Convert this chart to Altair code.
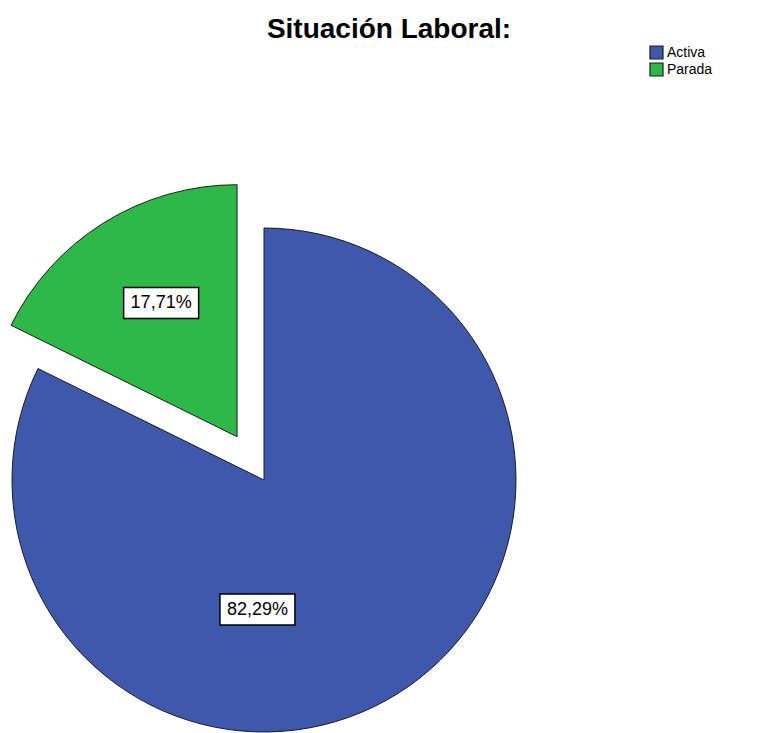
import altair as alt
import pandas as pd

# ---- data ----
categories = ["Activa", "Parada"]
percentages = [82.29, 17.71]
labels = ["82,29%", "17,71%"]
TITLE = "Situación Laboral:"

# ---- style / layout ----
COLORS = ["#3E58AC", "#2EB848"]
W, H = 746, 725
CX, CY, R = 256, 472, 252
EXPLODE = {"Activa": 0, "Parada": 51}
# label placement relative to slice centre: (deg clockwise from 12 o'clock, fraction of radius)
LABEL_ANGLE = {"Activa": 182.9, "Parada": 330.4}
LABEL_RFRAC = {"Activa": 0.515, "Parada": 0.610}
BOX_W, BOX_H = 75, 31

df = pd.DataFrame({
    "category": categories,
    "value": percentages,
    "label": labels,
    "idx": list(range(len(categories))),
})
df["explode"] = df["category"].map(EXPLODE)
df["lab_a"] = df["category"].map(LABEL_ANGLE)
df["lab_r"] = df["category"].map(LABEL_RFRAC)

base = (
    alt.Chart(df)
    .transform_joinaggregate(total="sum(value)")
    .transform_window(cum="sum(value)", sort=[alt.SortField("idx")], frame=[None, 0])
    .transform_calculate(
        start="(datum.cum - datum.value) / datum.total * 2 * PI",
        end="datum.cum / datum.total * 2 * PI",
    )
    .transform_calculate(mid="(datum.start + datum.end) / 2")
    .transform_calculate(
        cx=f"{CX} + datum.explode * sin(datum.mid)",
        cy=f"{CY} - datum.explode * cos(datum.mid)",
    )
    .transform_calculate(
        lx=f"datum.cx + {R} * datum.lab_r * sin(datum.lab_a * PI / 180)",
        ly=f"datum.cy - {R} * datum.lab_r * cos(datum.lab_a * PI / 180)",
    )
    .transform_calculate(
        bx1=f"datum.lx - {BOX_W / 2}",
        bx2=f"datum.lx + {BOX_W / 2}",
        by1=f"datum.ly - {BOX_H / 2}",
        by2=f"datum.ly + {BOX_H / 2}",
    )
)

arcs = base.mark_arc(outerRadius=R, stroke="#1c1c1c", strokeWidth=1).encode(
    theta=alt.Theta("start:Q", scale=None),
    theta2="end:Q",
    x=alt.X("cx:Q", scale=None, axis=None),
    y=alt.Y("cy:Q", scale=None, axis=None),
    color=alt.Color(
        "category:N",
        scale=alt.Scale(domain=categories, range=COLORS),
        legend=alt.Legend(
            title=None,
            orient="none",
            legendX=641,
            legendY=37,
            symbolType="square",
            symbolSize=169,
            symbolStrokeColor="#1c1c1c",
            symbolStrokeWidth=1.2,
            symbolOpacity=1,
            labelFont="Liberation Sans",
            labelFontSize=14,
            labelColor="black",
            rowPadding=-2,
            padding=0,
            labelOffset=3,
        ),
    ),
)

boxes = base.mark_rect(fill="white", stroke="black", strokeWidth=1.5).encode(
    x=alt.X("bx1:Q", scale=None, axis=None),
    x2="bx2:Q",
    y=alt.Y("by1:Q", scale=None, axis=None),
    y2="by2:Q",
)

texts = base.mark_text(
    font="Liberation Sans", fontSize=18, color="black", align="center", baseline="middle"
).encode(
    x=alt.X("lx:Q", scale=None, axis=None),
    y=alt.Y("ly:Q", scale=None, axis=None),
    text="label:N",
)

title = (
    alt.Chart(pd.DataFrame({"t": [TITLE]}))
    .mark_text(font="Liberation Sans", fontSize=28, fontWeight="bold",
               align="center", baseline="alphabetic", color="black")
    .encode(x=alt.value(381), y=alt.value(30), text="t:N")
)

chart = (
    alt.layer(arcs, boxes, texts, title)
    .properties(width=W, height=H, padding=0, autosize="none")
    .configure_view(stroke=None)
)

chart.save("out.html", embed_options={"renderer": "svg", "actions": False})
